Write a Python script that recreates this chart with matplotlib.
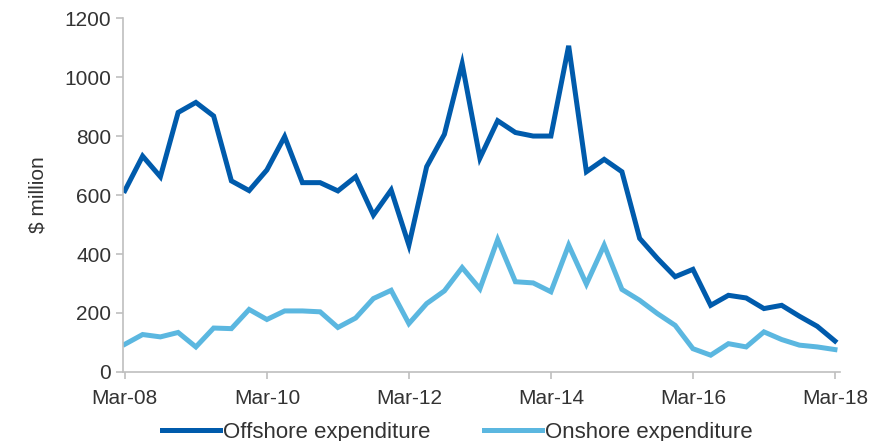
import numpy as np
import matplotlib.pyplot as plt

# quarterly, Mar-08 .. Mar-18
offshore = [615, 732, 662, 880, 914, 868, 648, 615, 685, 798,
            642, 642, 614, 662, 532, 617, 430, 696, 806, 1045,
            725, 852, 812, 800, 800, 1106, 679, 721, 679, 453,
            385, 323, 348, 226, 260, 251, 215, 226, 189, 155, 105]
onshore = [94, 127, 119, 134, 85, 149, 147, 212, 178, 207,
           207, 204, 151, 183, 249, 277, 164, 232, 275, 354,
           282, 449, 306, 302, 272, 430, 298, 430, 280, 243,
           198, 158, 79, 57, 96, 85, 136, 110, 91, 85, 76]
tick_labels = ['Mar-08', 'Mar-10', 'Mar-12', 'Mar-14', 'Mar-16', 'Mar-18']

plt.rcParams['font.family'] = ['Liberation Sans', 'DejaVu Sans']

x = np.arange(len(offshore))
fig = plt.figure(figsize=(8.92, 4.41), dpi=100)
ax = fig.add_axes([0.138, 0.1565, 0.804, 0.8025])

ax.plot(x, offshore, color='#005BAC', linewidth=3.6, label='Offshore expenditure',
        solid_joinstyle='miter')
ax.plot(x, onshore, color='#5BB7E0', linewidth=3.6, label='Onshore expenditure',
        solid_joinstyle='miter')

ax.set_xlim(-0.1, 40.3)
ax.set_ylim(0, 1200)
ax.set_xticks(np.arange(0, 41, 8))
ax.set_xticklabels(tick_labels)
ax.set_yticks(np.arange(0, 1201, 200))

for s in ['top', 'right']:
    ax.spines[s].set_visible(False)
for s in ['left', 'bottom']:
    ax.spines[s].set_color('#BFBFBF')
    ax.spines[s].set_linewidth(1.2)
ax.tick_params(axis='both', colors='#BFBFBF', labelcolor='#333333',
               labelsize=15, length=5, width=1.2)
ax.tick_params(axis='x', pad=7)
ax.set_ylabel('$ million', fontsize=15, color='#333333', labelpad=12)

ax.legend(loc='upper center', bbox_to_anchor=(0.466, -0.115), ncol=2, frameon=False,
          fontsize=16, handlelength=2.6, handletextpad=0.15, columnspacing=2.4,
          labelcolor='#333333', borderaxespad=0)

fig.savefig('out.png', dpi=100)
